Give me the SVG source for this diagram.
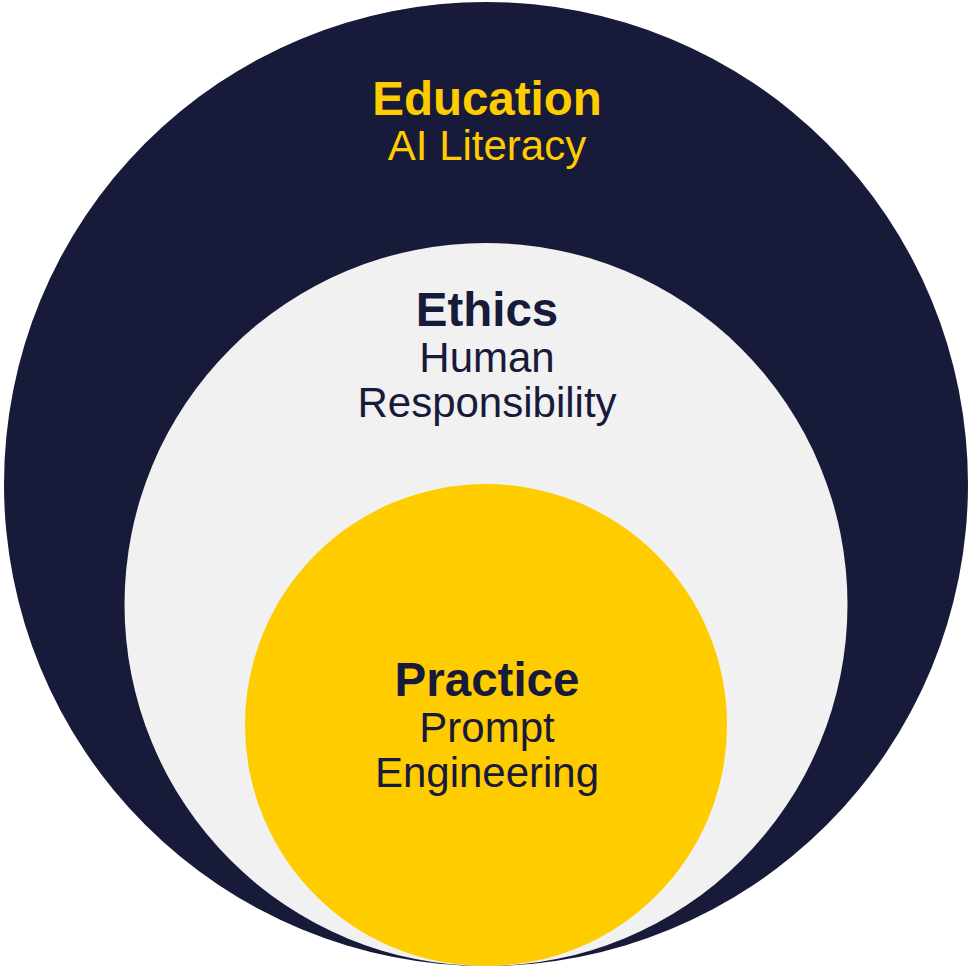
<svg xmlns="http://www.w3.org/2000/svg" width="968" height="967" viewBox="0 0 968 967">
  <style>
    .t { font-family: "Liberation Sans", Arial, sans-serif; text-anchor: middle; }
    .h { font-weight: bold; font-size: 47.5px; }
    .s { font-size: 42px; }
    .gold { fill: #ffcc00; }
    .navy { fill: #181a3a; }
  </style>
  <rect width="968" height="967" fill="#ffffff"/>
  <!-- outer ring -->
  <g id="education">
    <circle cx="486" cy="484" r="482" fill="#181a3a"/>
    <text class="t h gold" x="487" y="115">Education</text>
    <text class="t s gold" x="487" y="160">AI Literacy</text>
  </g>
  <!-- middle ring -->
  <g id="ethics">
    <circle cx="486" cy="604.5" r="361.5" fill="#f1f1f1"/>
    <text class="t h navy" x="487" y="326">Ethics</text>
    <text class="t s navy" x="487" y="372">Human</text>
    <text class="t s navy" x="487" y="417">Responsibility</text>
  </g>
  <!-- core -->
  <g id="practice">
    <circle cx="486" cy="725" r="241" fill="#ffcc00"/>
    <text class="t h navy" x="487" y="696">Practice</text>
    <text class="t s navy" x="487" y="742">Prompt</text>
    <text class="t s navy" x="487" y="787">Engineering</text>
  </g>
</svg>
